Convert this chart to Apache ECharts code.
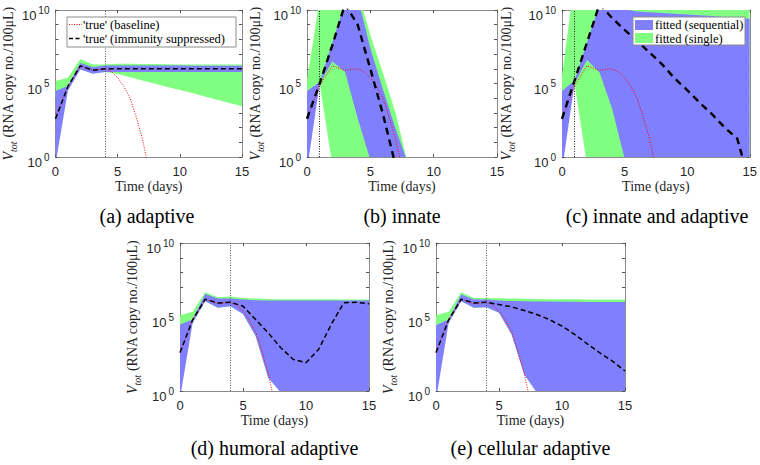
<!DOCTYPE html>
<html><head><meta charset="utf-8">
<script src="https://cdn.jsdelivr.net/npm/echarts@6/dist/echarts.min.js"></script>
<style>html,body{margin:0;padding:0;background:#fff}#c{width:760px;height:465px}</style>
</head><body><div id="c"></div>
<script>
// ===== DATA (values are log10 of V_tot, RNA copy no./100uL) =====
const tDays = [0,1,2,3,4,5,6,7,8,9,10,11,12,13,14,15];
const shortDays = [0,1,2,3,4,5,6,7,8];
const xTicks = [0, 5, 10, 15];
const yTickExponents = [0, 5, 10];

// 'true' (baseline) - shared by all panels
const baselineDays = [0,1,2,3,4,4.5,5,5.5,6,6.5,7,7.5,8];
const baselineLog  = [2.6,4.85,6.2,5.9,6.0,5.8,5.4,4.8,4.0,2.7,1.2,-0.8,-2.8];

// (a) adaptive
const a_suppressed  = [2.6,4.8,6.2,5.9,6.0,6.0,6.0,6.0,6.0,6.0,6.0,6.0,6.0,6.0,6.0,6.0];
const a_seqUpper    = [4.49,4.83,6.4,6.1,6.22,6.22,6.22,6.22,6.22,6.22,6.22,6.21,6.21,6.2,6.2,6.2];
const a_seqLower    = [-0.5,4.5,5.96,5.66,5.78,5.78,5.78,5.78,5.78,5.78,5.78,5.78,5.78,5.78,5.78,5.78];
const a_singleUpper = [5.17,5.39,6.67,6.29,6.29,6.34,6.34,6.33,6.32,6.31,6.3,6.3,6.3,6.29,6.29,6.29];
const a_singleLower = [4.0,4.6,6.0,5.7,5.78,5.65,5.42,5.2,4.98,4.76,4.56,4.35,4.12,3.9,3.68,3.46];

// (b) innate
const b_suppressed  = [2.6,5.0,7.6,10.4,9.0,6.0,2.9,-0.6,-4];
const b_seqUpper    = [4.49,5.1,7.8,10.5,10.9,7.4,4.6,1.9,-0.5];
const b_seqLower    = [-0.9,5.0,6.5,5.8,2.63,-0.2,-3,-3,-3];
const b_singleUpper = [5.17,10.8,12,12,11.3,8.3,5.7,3.0,-0.6];
const b_singleLower = [4.3,5.0,-0.55,-3,-3,-3,-3,-3,-3];

// (c) innate and adaptive
const c_suppressed  = [2.6,5.2,7.8,10.4,9.45,8.65,7.9,7.1,6.3,5.35,4.55,3.7,2.9,2.0,1.25,-1.8];
const c_seqUpper    = [4.49,5.2,7.8,10.4,10.3,10.05,9.9,9.85,9.8,9.75,9.7,9.65,9.6,9.5,9.45,9.4];
const c_seqLower    = [-0.9,5.0,6.6,5.75,3.3,-0.1,-3,-3,-3,-3,-3,-3,-3,-3,-3,-3];
const c_singleUpper = [5.5,12,12,12,12,12,12,12,12,12,12,12,12,12,12,12];
const c_singleLower = [4.3,5.0,-0.55,-3,-3,-3,-3,-3,-3,-3,-3,-3,-3,-3,-3,-3];

// (d) humoral adaptive
const d_suppressed  = [2.6,4.8,6.2,5.95,6.0,5.73,4.83,3.93,2.92,2.13,1.91,2.81,4.49,5.96,6.0,5.89];
const d_seqUpper    = [4.49,4.83,6.56,6.25,6.25,6.18,6.13,6.11,6.11,6.11,6.11,6.11,6.11,6.11,6.11,6.11];
const d_seqLower    = [-0.5,4.6,6.07,5.62,5.73,5.21,3.71,0.9,-0.1,-3,-3,-3,-3,-3,-3,-3];
const d_singleUpper = [5.12,5.35,6.67,6.34,6.38,6.29,6.25,6.22,6.2,6.2,6.2,6.2,6.2,6.18,6.18,6.18];
const d_singleLower = [4.2,4.6,6.07,5.62,5.73,5.21,3.71,0.9,-0.1,-3,-3,-3,-3,-3,-3,-3];

// (e) cellular adaptive
const e_suppressed  = [2.6,4.8,6.2,5.95,6.0,5.84,5.69,5.44,5.17,4.83,4.38,3.82,3.19,2.58,2.02,1.35];
const e_seqUpper    = [4.45,4.83,6.52,6.18,6.18,6.11,6.08,6.06,6.05,6.04,6.03,6.03,6.02,6.02,6.02,6.02];
const e_seqLower    = [-0.6,4.6,6.07,5.62,5.66,5.28,3.82,1.12,-0.1,-3,-3,-3,-3,-3,-3,-3];
const e_singleUpper = [5.12,5.35,6.67,6.29,6.29,6.27,6.25,6.23,6.22,6.2,6.2,6.2,6.19,6.18,6.18,6.18];
const e_singleLower = [4.2,4.6,6.07,5.62,5.66,5.28,3.82,1.12,-0.1,-3,-3,-3,-3,-3,-3,-3];

// time at which immunity is suppressed (vertical dotted line)
const suppressionDay = {a:4, b:1, c:1, d:4, e:4};

const captions = {a:'(a) adaptive', b:'(b) innate', c:'(c) innate and adaptive', d:'(d) humoral adaptive', e:'(e) cellular adaptive'};
const legendA = ["'true' (baseline)", "'true' (immunity suppressed)"];
const legendC = ['fitted (sequential)', 'fitted (single)'];

// ===== LAYOUT / STYLE =====
const panels = [
  {id:'a', left:52,  top:10,  width:190, height:147, nameGap:37, capY:216, thick:false,
   days:tDays, sup:a_suppressed, su:a_seqUpper, sl:a_seqLower, gu:a_singleUpper, gl:a_singleLower},
  {id:'b', left:307, top:10,  width:190, height:147, nameGap:42, capY:216, thick:true,
   days:shortDays, sup:b_suppressed, su:b_seqUpper, sl:b_seqLower, gu:b_singleUpper, gl:b_singleLower},
  {id:'c', left:562, top:10,  width:190, height:147, nameGap:46, capY:216, thick:true,
   days:tDays, sup:c_suppressed, su:c_seqUpper, sl:c_seqLower, gu:c_singleUpper, gl:c_singleLower},
  {id:'d', left:180, top:243, width:189, height:148, nameGap:34, capY:448, thick:false,
   days:tDays, sup:d_suppressed, su:d_seqUpper, sl:d_seqLower, gu:d_singleUpper, gl:d_singleLower},
  {id:'e', left:436, top:243, width:189, height:148, nameGap:38, capY:448, thick:false,
   days:tDays, sup:e_suppressed, su:e_seqUpper, sl:e_seqLower, gu:e_singleUpper, gl:e_singleLower}
];

const BLUE = '#8080ff', GREEN = '#80ff80', TXT = '#262626', FRAME = '#8c8c8c';
const SERIF = 'Liberation Serif';
const SANS = 'Liberation Sans';
const pw = e => Math.pow(10, e);

const chart = echarts.init(document.getElementById('c'), null, {renderer:'svg'});
const grids = [], xAxes = [], yAxes = [], series = [], graphics = [];

function band(xi, yi, xs, up, lo, color) {
  return {
    type:'custom', xAxisIndex:xi, yAxisIndex:yi, silent:true, clip:true, z:1,
    data: xs.map((x, i) => [x, pw(up[i]), pw(lo[i])]),
    encode:{x:0, y:[1,2]},
    renderItem: (params, api) => {
      if (params.dataIndex !== 0) return null;
      const pts = [];
      for (let i = 0; i < xs.length; i++) pts.push(api.coord([xs[i], pw(up[i])]));
      for (let i = xs.length - 1; i >= 0; i--) pts.push(api.coord([xs[i], pw(lo[i])]));
      const cs = params.coordSys;
      return {type:'polygon', shape:{points:pts}, style:{fill:color, stroke:null},
              clipPath:{type:'rect', shape:{x:cs.x, y:cs.y, width:cs.width, height:cs.height}}};
    }
  };
}

function txt(x, y, text, size, align) {
  return {type:'text', z:21, x:x, y:y,
    style:{text:text, fontFamily:SERIF, fontSize:size, fontWeight:'normal', fill:'#000', align:align, verticalAlign:'middle'}};
}

panels.forEach((p, i) => {
  grids.push({left:p.left, top:p.top, width:p.width, height:p.height});
  const line = {show:true, onZero:false, lineStyle:{color:FRAME, width:1}};
  const tick = {show:true, inside:true, length:3, lineStyle:{color:'#555', width:1}};
  const xi = xAxes.length, yi = yAxes.length;
  xAxes.push({gridIndex:i, type:'value', min:xTicks[0], max:xTicks[xTicks.length-1], interval:xTicks[1]-xTicks[0],
    position:'bottom', axisLine:line, axisTick:tick, splitLine:{show:false},
    axisLabel:{margin:8, fontSize:13, color:TXT, fontFamily:SANS},
    name:'Time (days)', nameLocation:'middle', nameGap:22,
    nameTextStyle:{fontFamily:SERIF, fontSize:14, fontWeight:'normal', color:TXT}});
  xAxes.push({gridIndex:i, type:'value', min:xTicks[0], max:xTicks[xTicks.length-1], interval:xTicks[1]-xTicks[0],
    position:'top', axisLine:line, axisTick:tick, splitLine:{show:false}, axisLabel:{show:false}});
  // data axis (logarithmic), hidden
  yAxes.push({gridIndex:i, type:'log', logBase:10, min:pw(yTickExponents[0]), max:pw(yTickExponents[2]),
    show:false, position:'left'});
  // decade ticks and 10^n labels (exponent scale, same extent as the log axis)
  yAxes.push({gridIndex:i, type:'value', min:yTickExponents[0], max:yTickExponents[2], interval:1,
    position:'left', axisLine:line, axisTick:tick, splitLine:{show:false},
    axisLabel:{margin:6, padding:[7,0,0,0],
      formatter: n => yTickExponents.indexOf(n) >= 0 ? '{b|10}{s|' + n + '}' : '',
      rich:{ b:{fontSize:13, fontFamily:SANS, color:TXT, verticalAlign:'bottom', padding:[4,0,0,0]},
             s:{fontSize:10, fontFamily:SANS, color:TXT, verticalAlign:'top', padding:[0,0,0,2]} }},
    name:'{v|V}{s|tot}{n| (RNA copy no./100μL)}', nameLocation:'middle', nameGap:p.nameGap, nameRotate:90,
    nameTextStyle:{color:TXT, fontFamily:SERIF, fontWeight:'normal', rich:{
      v:{fontFamily:SERIF, fontStyle:'italic', fontSize:14, color:TXT, verticalAlign:'bottom', padding:[0,0,3,0]},
      s:{fontFamily:SERIF, fontStyle:'italic', fontSize:10, color:TXT, verticalAlign:'bottom'},
      n:{fontFamily:SERIF, fontSize:14, color:TXT, verticalAlign:'bottom', padding:[0,0,3,0]} }}});
  yAxes.push({gridIndex:i, type:'value', min:yTickExponents[0], max:yTickExponents[2], interval:1,
    position:'right', axisLine:line, axisTick:tick, splitLine:{show:false}, axisLabel:{show:false}});

  series.push(band(xi, yi, p.days, p.gu, p.gl, GREEN));
  series.push(band(xi, yi, p.days, p.su, p.sl, BLUE));
  series.push({type:'line', xAxisIndex:xi, yAxisIndex:yi, showSymbol:false, silent:true, z:3, clip:true,
    data: baselineDays.map((d, k) => [d, pw(baselineLog[k])]),
    lineStyle:{color:'#ff0000', width:1, type:[1,1.5]},
    markLine:{silent:true, symbol:'none', label:{show:false}, z:5,
      lineStyle:{color: p.thick ? '#222' : '#555', width:1, type:[1,1.5]},
      data:[{xAxis: suppressionDay[p.id]}]}});
  series.push({type:'line', xAxisIndex:xi, yAxisIndex:yi, showSymbol:false, silent:true, z:4, clip:true,
    data: p.days.map((d, k) => [d, pw(p.sup[k])]),
    lineStyle:{color:'#000', width: p.thick ? 2.4 : 1.5, type: p.thick ? [7,5] : [5,3]}});

  graphics.push(txt(p.left + p.width/2, p.capY, captions[p.id], 20, 'center'));
});

// legend (a)
graphics.push({type:'rect', z:20, shape:{x:67, y:17, width:169, height:30}, style:{fill:'#fff', stroke:FRAME, lineWidth:1}});
graphics.push({type:'line', z:21, shape:{x1:69, y1:24.5, x2:82, y2:24.5}, style:{stroke:'#ff0000', lineWidth:1, lineDash:[1,1.5]}});
graphics.push({type:'line', z:21, shape:{x1:69, y1:38.5, x2:82, y2:38.5}, style:{stroke:'#000', lineWidth:1.5, lineDash:[4,2.5]}});
graphics.push(txt(83, 24.5, legendA[0], 12.5, 'left'));
graphics.push(txt(83, 38.5, legendA[1], 12.5, 'left'));
// legend (c)
graphics.push({type:'rect', z:20, shape:{x:633, y:17, width:112, height:28}, style:{fill:'#fff', stroke:FRAME, lineWidth:1}});
graphics.push({type:'rect', z:21, shape:{x:635, y:20, width:18, height:10}, style:{fill:BLUE}});
graphics.push({type:'rect', z:21, shape:{x:635, y:33, width:18, height:10}, style:{fill:GREEN}});
graphics.push(txt(655, 25, legendC[0], 12.5, 'left'));
graphics.push(txt(655, 38.5, legendC[1], 12.5, 'left'));

chart.setOption({animation:false, backgroundColor:'#fff', grid:grids, xAxis:xAxes, yAxis:yAxes, series:series, graphic:graphics});
</script></body></html>
